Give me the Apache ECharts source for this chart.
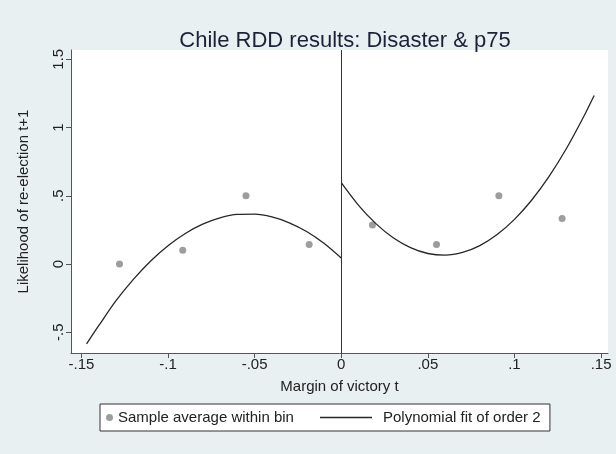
<!DOCTYPE html>
<html style="height: 100%">
<head>
    <meta charset="utf-8">
    <title>Chile RDD</title>
</head>
<body style="height: 100%; margin: 0">
<div id="container" style="width: 616px; height: 454px"></div>
<script type="text/javascript" src="https://cdn.jsdelivr.net/npm/echarts@6/dist/echarts.min.js"></script>
<script type="text/javascript">
    // bin averages (x = margin of victory, y = share re-elected)
    var binX = [-0.128, -0.0915, -0.055, -0.0185, 0.018, 0.055, 0.091, 0.1275];
    var binY = [0.0, 0.10, 0.50, 0.143, 0.286, 0.143, 0.50, 0.333];

    var fitLeftX = [-0.147, -0.14, -0.13, -0.12, -0.11, -0.1, -0.09, -0.08, -0.07, -0.06,
                    -0.05, -0.04, -0.03, -0.02, -0.01, 0];
    var fitLeftY = [-0.585, -0.452, -0.269, -0.113, 0.022, 0.134, 0.224, 0.292, 0.338, 0.363,
                    0.365, 0.345, 0.302, 0.238, 0.152, 0.044];
    var fitRightX = [0, 0.01, 0.02, 0.03, 0.04, 0.05, 0.06, 0.07, 0.08, 0.09, 0.1,
                     0.11, 0.12, 0.13, 0.14, 0.146];
    var fitRightY = [0.596, 0.430, 0.296, 0.192, 0.120, 0.077, 0.065, 0.085, 0.135, 0.216, 0.327,
                     0.469, 0.642, 0.846, 1.081, 1.235];

    var xTicks = [-0.15, -0.1, -0.05, 0, 0.05, 0.1, 0.15];
    var yTicks = [-0.5, 0, 0.5, 1, 1.5];

    function pairs(xs, ys) {
        var out = [];
        for (var i = 0; i < xs.length; i++) out.push([xs[i], ys[i]]);
        return out;
    }
    // stata style: drop the leading zero
    function stataFmt(v) {
        var s = String(+v.toFixed(3));
        return s.replace(/^0\./, '.').replace(/^-0\./, '-.');
    }

    var dom = document.getElementById("container");
    var myChart = echarts.init(dom);
    var font = 'Liberation Sans, Arial, Helvetica, sans-serif';
    var option = {
        backgroundColor: '#e9f0f2',
        animation: false,
        textStyle: { fontFamily: font },
        title: {
            text: 'Chile RDD results: Disaster & p75',
            left: 340,
            textAlign: 'center',
            top: 25,
            textStyle: { fontFamily: font, fontSize: 22, fontWeight: 'normal', color: '#1a2238' }
        },
        grid: {
            left: 71, right: 8, top: 50, bottom: 101,
            show: true, backgroundColor: '#ffffff', borderWidth: 0
        },
        legend: [{
            left: 100, top: 404,
            data: ['Sample average within bin'],
            itemWidth: 7, itemHeight: 7,
            padding: [6, 256, 6, 6],
            backgroundColor: '#ffffff',
            borderColor: '#333', borderWidth: 1, borderRadius: 0,
            textStyle: { fontFamily: font, fontSize: 15, color: '#222' },
            selectedMode: false
        }, {
            left: 320, top: 404, z: 5,
            data: [{ name: 'Polynomial fit of order 2', icon: 'rect' }],
            itemWidth: 52, itemHeight: 1.3,
            itemGap: 0,
            padding: [6, 0, 6, 0],
            textStyle: { fontFamily: font, fontSize: 15, color: '#222', padding: [0, 0, 0, 6] },
            selectedMode: false
        }],
        xAxis: {
            type: 'value',
            min: -0.156, max: 0.154,
            name: 'Margin of victory t',
            nameLocation: 'middle',
            nameGap: 26,
            nameTextStyle: { fontFamily: font, fontSize: 15, color: '#222' },
            axisLine: { show: true, onZero: false, lineStyle: { color: '#555', width: 1 } },
            axisTick: { show: true, length: 5, customValues: xTicks, lineStyle: { color: '#555' } },
            axisLabel: { customValues: xTicks, formatter: stataFmt, fontSize: 15, color: '#222', margin: 4 },
            splitLine: { show: false }
        },
        yAxis: {
            type: 'value',
            min: -0.652, max: 1.568,
            name: 'Likelihood of re-election t+1',
            nameLocation: 'middle',
            nameGap: 40,
            nameTextStyle: { fontFamily: font, fontSize: 15, color: '#222' },
            axisLine: { show: true, onZero: false, lineStyle: { color: '#555', width: 1 } },
            axisTick: { show: true, length: 5, customValues: yTicks, lineStyle: { color: '#555' } },
            axisLabel: { customValues: yTicks, formatter: stataFmt, fontSize: 15, color: '#222', rotate: 90, margin: 5 },
            splitLine: { show: false }
        },
        series: [{
            name: 'Sample average within bin',
            type: 'scatter',
            symbolSize: 7,
            itemStyle: { color: '#858585' },
            data: pairs(binX, binY),
            markLine: {
                silent: true,
                symbol: 'none',
                label: { show: false },
                lineStyle: { color: '#333', width: 1, type: 'solid' },
                data: [{ xAxis: 0 }]
            }
        }, {
            name: 'Polynomial fit of order 2',
            type: 'line',
            smooth: 0.3,
            showSymbol: false,
            symbol: 'none',
            lineStyle: { color: '#262626', width: 1.3 },
            itemStyle: { color: '#262626' },
            data: pairs(fitLeftX, fitLeftY)
        }, {
            name: 'Polynomial fit of order 2',
            type: 'line',
            smooth: 0.3,
            showSymbol: false,
            symbol: 'none',
            lineStyle: { color: '#262626', width: 1.3 },
            itemStyle: { color: '#262626' },
            data: pairs(fitRightX, fitRightY)
        }]
    };
    if (option && typeof option === "object") {
        myChart.setOption(option, true);
    }
</script>
</body>
</html>
